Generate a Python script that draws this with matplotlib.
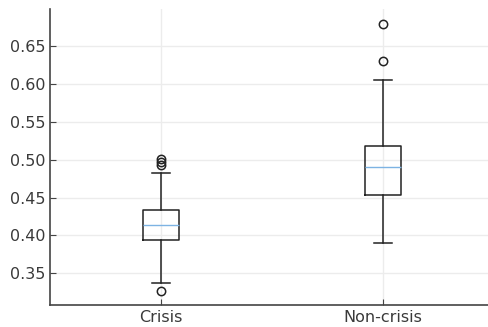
import matplotlib
matplotlib.use('Agg')
from matplotlib import pyplot as plt

# Box statistics
labels = ['Crisis', 'Non-crisis']
q1 = [0.394, 0.454]
median = [0.414, 0.491]
q3 = [0.433, 0.518]
whislo = [0.337, 0.390]
whishi = [0.482, 0.605]
fliers = [[0.501, 0.497, 0.493, 0.326], [0.679, 0.631]]

stats = []
for i in range(len(labels)):
    stats.append({'label': labels[i], 'q1': q1[i], 'med': median[i], 'q3': q3[i],
                  'whislo': whislo[i], 'whishi': whishi[i], 'fliers': fliers[i]})

fig = plt.figure(figsize=(4.89, 3.27), dpi=100)
ax = fig.add_axes([0.102, 0.067, 0.908, 0.905])

lineColor = '#222222'
ax.bxp(stats, widths=0.16,
       boxprops=dict(color=lineColor, linewidth=1.1),
       whiskerprops=dict(color=lineColor, linewidth=1.1),
       capprops=dict(color=lineColor, linewidth=1.1),
       medianprops=dict(color='#7db3e3', linewidth=1.0),
       flierprops=dict(marker='o', markerfacecolor='none', markeredgecolor=lineColor,
                       markersize=6, markeredgewidth=1.1))

ax.set_xlim(0.5, 2.5)
ax.set_ylim(0.308, 0.699)
ax.set_yticks([0.35, 0.40, 0.45, 0.50, 0.55, 0.60, 0.65])
ax.set_yticklabels(['%.2f' % v for v in ax.get_yticks()])

ax.grid(True, color='#ececec', linewidth=1.0)
ax.set_axisbelow(True)
ax.spines['top'].set_visible(False)
ax.spines['right'].set_visible(False)
for s in ['left', 'bottom']:
    ax.spines[s].set_color('#444444')
    ax.spines[s].set_linewidth(1.2)
ax.tick_params(direction='in', length=4, colors='#444444', labelsize=11.5, labelcolor='#3a3a3a')

fig.savefig('out.png', dpi=100)
